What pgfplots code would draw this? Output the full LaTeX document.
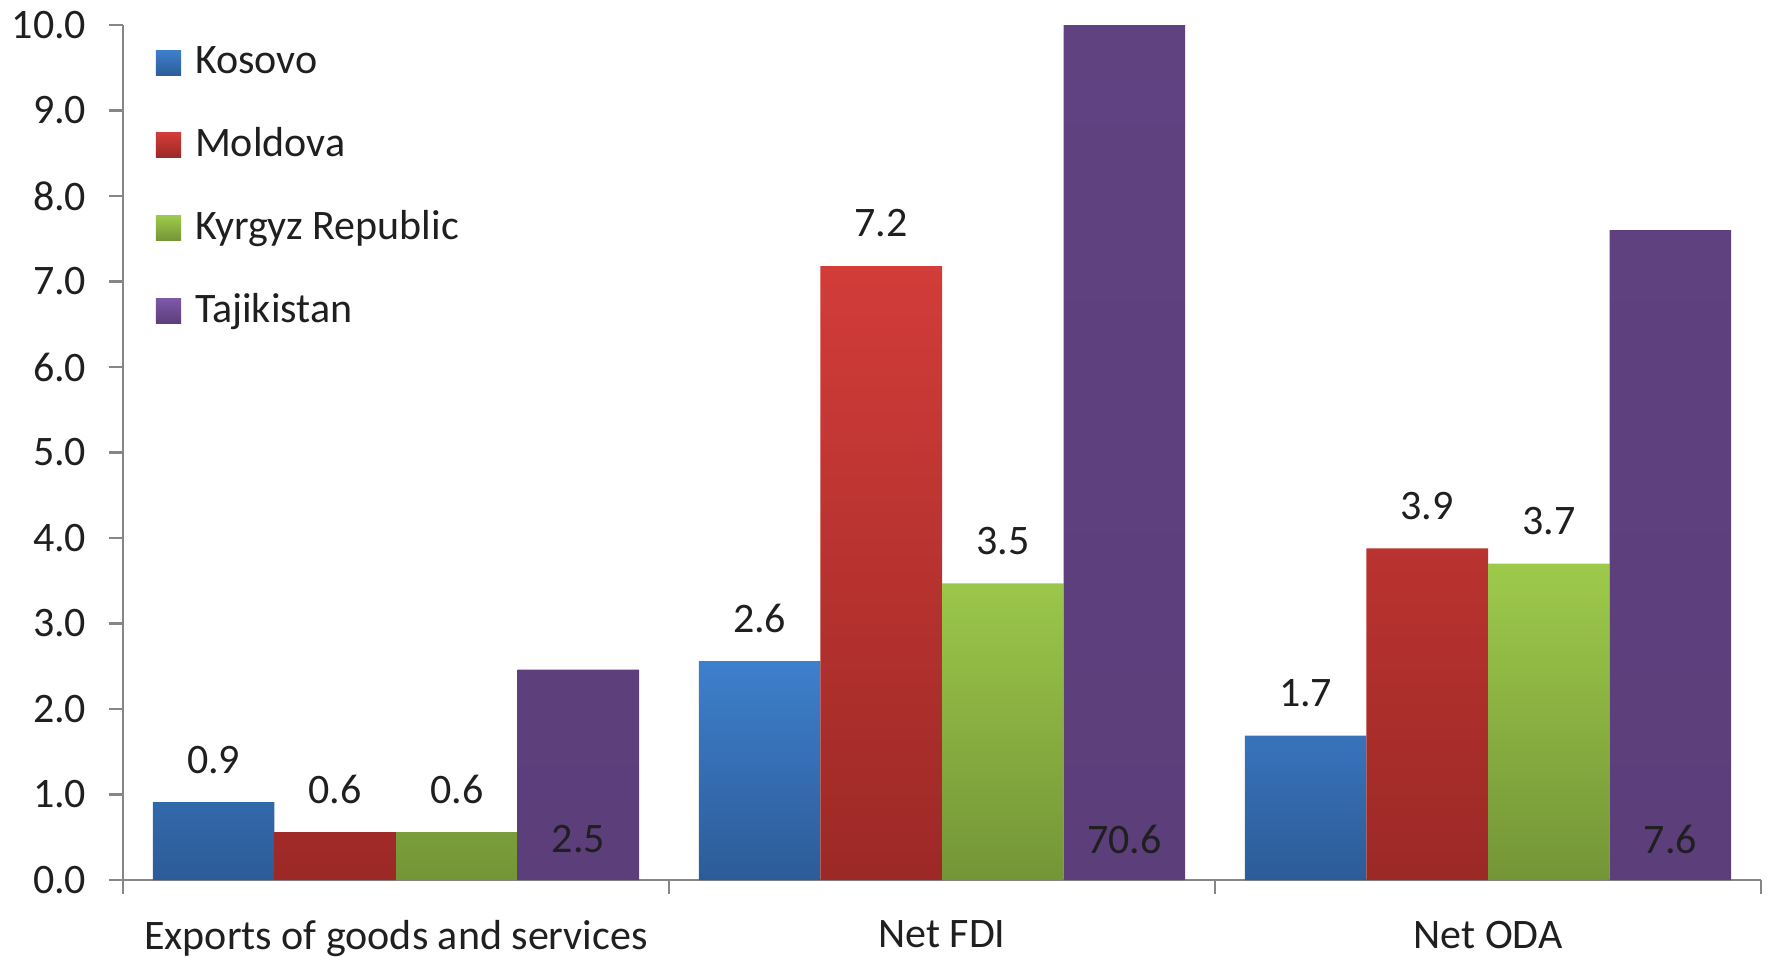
\documentclass[border=0pt]{standalone}
\usepackage{pgfplots}
\pgfplotsset{compat=1.18}
\usepackage{fontspec}
\setmainfont{Carlito}

\definecolor{axisgray}{HTML}{868686}
\definecolor{kosT}{HTML}{3E7FCC}
\definecolor{kosB}{HTML}{2C5C98}
\definecolor{molT}{HTML}{D23C39}
\definecolor{molB}{HTML}{9C2926}
\definecolor{kyrT}{HTML}{9DCA4B}
\definecolor{kyrB}{HTML}{749537}
\definecolor{tajT}{HTML}{7D58A7}
\definecolor{tajB}{HTML}{5C3E7B}

\begin{document}
\fontsize{10.5}{12.6}\selectfont
\begin{tikzpicture}
\begin{axis}[
    scale only axis,
    width=409.5pt, height=213.75pt,
    xmin=-0.5, xmax=2.5,
    ymin=0, ymax=10,
    axis x line*=bottom,
    axis y line*=left,
    axis line style={draw=axisgray, line width=0.6pt},
    tick align=outside,
    major tick length=3.5pt,
    minor tick length=3.5pt,
    tick style={draw=axisgray, line width=0.6pt},
    xtick={0,1,2},
    xticklabels={Exports of goods and services, Net FDI, Net ODA},
    major x tick style={draw=none},
    minor xtick={-0.5,0.5,1.5,2.5},
    ytick={0,1,...,10},
    /pgf/number format/assume math mode=true,
    yticklabel style={xshift=-2pt, /pgf/number format/.cd, fixed, fixed zerofill, precision=1},
    ticklabel style={font=\fontsize{10.5}{12.6}\selectfont, text=black!88},
    xticklabel style={yshift=-3pt},
    legend style={draw=none, fill=none, at={(0,1)}, anchor=north west,
        xshift=5pt, yshift=-1.2pt, row sep=7.9pt,
        font=\fontsize{10.5}{12.6}\selectfont, text=black!88,
        /tikz/every odd column/.append style={column sep=1.5pt}},
    legend cell align=left,
    legend image code/.code={\fill[#1, draw=none] (0pt,-3.15pt) rectangle (6.3pt,3.15pt);},
    bar width=0.2226,
    every node near coord/.append style={font=\fontsize{10.5}{12.6}\selectfont, text=black!88},
]

% bars sit at their own x (group centre +- offset), so labels line up with them
% Kosovo
\addplot[ybar, bar shift=0, draw=none, top color=kosT, bottom color=kosB,
    nodes near coords={\pgfmathprintnumber[fixed,fixed zerofill,precision=1]{\pgfplotspointmeta}},
    every node near coord/.append style={yshift=3.5pt}]
    coordinates {(-0.3339,0.91) (0.6661,2.56) (1.6661,1.69)};
\addlegendentry{Kosovo}

% Moldova
\addplot[ybar, bar shift=0, draw=none, top color=molT, bottom color=molB,
    nodes near coords={\pgfmathprintnumber[fixed,fixed zerofill,precision=1]{\pgfplotspointmeta}},
    every node near coord/.append style={yshift=3.5pt}]
    coordinates {(-0.1113,0.56) (0.8887,7.18) (1.8887,3.88)};
\addlegendentry{Moldova}

% Kyrgyz Republic
\addplot[ybar, bar shift=0, draw=none, top color=kyrT, bottom color=kyrB,
    nodes near coords={\pgfmathprintnumber[fixed,fixed zerofill,precision=1]{\pgfplotspointmeta}},
    every node near coord/.append style={yshift=3.5pt}]
    coordinates {(0.1113,0.56) (1.1113,3.47) (2.1113,3.70)};
\addlegendentry{Kyrgyz Republic}

% Tajikistan (FDI runs off the scale)
\addplot[ybar, bar shift=0, draw=none, top color=tajT, bottom color=tajB]
    coordinates {(0.3339,2.46) (1.3339,70.6) (2.3339,7.60)};
\addlegendentry{Tajikistan}

% Tajikistan labels sit inside the bars, near the base
\addplot[draw=none, mark=none, forget plot,
    nodes near coords={\pgfplotspointmeta},
    point meta=explicit symbolic,
    every node near coord/.append style={anchor=center}]
    table[meta=lab] {
x y lab
0.3339 0.475 2.5
1.3339 0.475 70.6
2.3339 0.475 7.6
};

\end{axis}
\pgfresetboundingbox
\path[use as bounding box] ([xshift=-30.75pt,yshift=-19pt]current axis.south west) rectangle ([xshift=2.75pt,yshift=6.25pt]current axis.north east);
\end{tikzpicture}
\end{document}
